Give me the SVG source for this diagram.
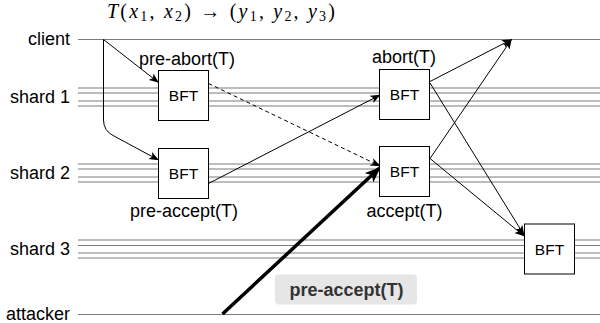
<svg xmlns="http://www.w3.org/2000/svg" width="600" height="323" viewBox="0 0 600 323">
<style>
.lane{stroke:#7a7a7a;stroke-width:1;fill:none}
.lbl{font-family:"Liberation Sans",Arial,sans-serif;font-size:18px;fill:#000}
.bft{fill:#fff;stroke:#000;stroke-width:1}
.bt{font-family:"Liberation Sans",Arial,sans-serif;font-size:15.5px;fill:#000;text-anchor:middle}
.edge{stroke:#000;stroke-width:1;fill:none;marker-end:url(#arr)}
</style>
<defs>
<marker id="arr" viewBox="0 0 10 8" refX="9.5" refY="4" markerWidth="10" markerHeight="8" orient="auto" markerUnits="userSpaceOnUse"><path d="M0,0 L10,4 L0,8 L2.5,4 Z" fill="#000"/></marker>
<marker id="big" viewBox="0 0 10 8" refX="9" refY="4" markerWidth="16" markerHeight="13" orient="auto" markerUnits="userSpaceOnUse"><path d="M0,0 L10,4 L0,8 L2.5,4 Z" fill="#000"/></marker>
</defs>
<rect width="600" height="323" fill="#fff"/>
<g id="title">
<text x="107" y="18" font-family="Liberation Serif,Times New Roman,serif" font-size="20" textLength="228" lengthAdjust="spacing"><tspan font-style="italic">T</tspan>(<tspan font-style="italic">x</tspan><tspan font-size="14" dy="3">1</tspan><tspan dy="-3">, </tspan><tspan font-style="italic">x</tspan><tspan font-size="14" dy="3">2</tspan><tspan dy="-3">) → (</tspan><tspan font-style="italic">y</tspan><tspan font-size="14" dy="3">1</tspan><tspan dy="-3">, </tspan><tspan font-style="italic">y</tspan><tspan font-size="14" dy="3">2</tspan><tspan dy="-3">, </tspan><tspan font-style="italic">y</tspan><tspan font-size="14" dy="3">3</tspan><tspan dy="-3">)</tspan></text>
</g>
<g id="lanes">
<line class="lane" x1="78" y1="39.5" x2="600" y2="39.5"/>
<line class="lane" x1="78" y1="88" x2="600" y2="88"/>
<line class="lane" x1="78" y1="93" x2="600" y2="93"/>
<line class="lane" x1="78" y1="101" x2="600" y2="101"/>
<line class="lane" x1="78" y1="106" x2="600" y2="106"/>
<line class="lane" x1="78" y1="164" x2="600" y2="164"/>
<line class="lane" x1="78" y1="169" x2="600" y2="169"/>
<line class="lane" x1="78" y1="177" x2="600" y2="177"/>
<line class="lane" x1="78" y1="182" x2="600" y2="182"/>
<line class="lane" x1="78" y1="240" x2="600" y2="240"/>
<line class="lane" x1="78" y1="245.5" x2="600" y2="245.5"/>
<line class="lane" x1="78" y1="253" x2="600" y2="253"/>
<line class="lane" x1="78" y1="258" x2="600" y2="258"/>
<line class="lane" x1="78" y1="314.5" x2="600" y2="314.5"/>
<text class="lbl" x="70" y="45" text-anchor="end">client</text>
<text class="lbl" x="70" y="103" text-anchor="end">shard 1</text>
<text class="lbl" x="70" y="179" text-anchor="end">shard 2</text>
<text class="lbl" x="70" y="255" text-anchor="end">shard 3</text>
<text class="lbl" x="70" y="319.5" text-anchor="end">attacker</text>
</g>
<g id="connectors">
<path class="edge" d="M103.5,39.5 L158.5,82.5"/>
<path class="edge" d="M103.5,39.5 L103.5,120 Q103.5,131 114,136 L158.5,160"/>
<path class="edge" d="M208.5,83.5 L380,166" stroke-dasharray="4 3"/>
<path class="edge" d="M208.5,183.5 L380,95"/>
<path class="edge" d="M430,81.5 L511.5,39.5"/>
<path class="edge" d="M430,158.5 L511.5,39.5"/>
<path class="edge" d="M430,83 L524,235"/>
<path class="edge" d="M430,158.5 L524,236"/>
<path d="M222.5,314 L379.5,168" stroke="#000" stroke-width="3.5" fill="none" marker-end="url(#big)"/>
</g>
<g id="n1"><rect class="bft" x="158.5" y="70.5" width="50" height="50"/><text class="bt" x="183.5" y="101">BFT</text><text class="lbl" x="187" y="65" text-anchor="middle">pre-abort(T)</text></g>
<g id="n2"><rect class="bft" x="158.5" y="148.5" width="50" height="50"/><text class="bt" x="183.5" y="179">BFT</text><text class="lbl" x="184" y="217" text-anchor="middle">pre-accept(T)</text></g>
<g id="n3"><rect class="bft" x="379.5" y="69.5" width="50" height="50"/><text class="bt" x="404.5" y="100">BFT</text><text class="lbl" x="404" y="63" text-anchor="middle">abort(T)</text></g>
<g id="n4"><rect class="bft" x="379.5" y="146.5" width="50" height="50"/><text class="bt" x="404.5" y="177">BFT</text><text class="lbl" x="404.5" y="217" text-anchor="middle">accept(T)</text></g>
<g id="n5"><rect class="bft" x="524.5" y="224" width="50" height="50"/><text class="bt" x="549.5" y="254.5">BFT</text></g>
<g id="attack-label"><rect x="275" y="274.5" width="142" height="30" rx="4" fill="#e6e6e6"/><text x="346.5" y="296" text-anchor="middle" font-family="Liberation Sans,Arial,sans-serif" font-size="18" font-weight="bold" fill="#333">pre-accept(T)</text></g>
</svg>
